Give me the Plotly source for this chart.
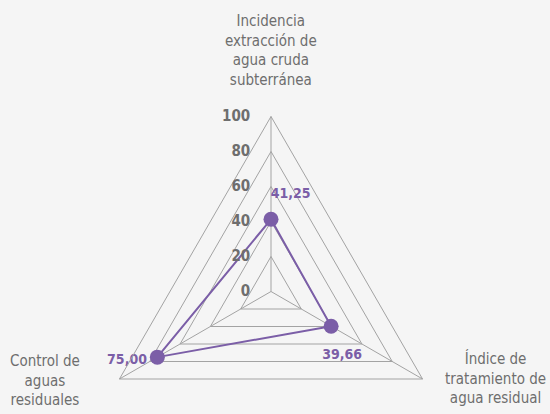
import plotly.graph_objects as go

categories = [
    "Incidencia<br>extracción de<br>agua cruda<br>subterránea",
    "Índice de<br>tratamiento de<br>agua residual",
    "Control de<br>aguas<br>residuales",
]
values = [41.25, 39.66, 75.00]
radial_ticks = [0, 20, 40, 60, 80, 100]

PURPLE = "#7b5ea7"
GRID = "#a3a3a3"
TEXT = "#6e6e6e"
BG = "#f5f5f5"
FONT = "DejaVu Sans Condensed, Roboto, sans-serif"


def fmt(v):
    return f"{v:.2f}".replace(".", ",")


NB = "\u00a0"
SPAN = "<span style='font-size:14px'>%s</span>"
labels = [
    SPAN % (NB * 9 + fmt(values[0])) + "<br> ",
    " <br>" + SPAN % (NB * 5 + fmt(values[1])),
    " <br>" + SPAN % fmt(values[2]),
]
positions = ["top center", "bottom center", "middle left"]

theta_closed = categories + [categories[0]]
r_closed = values + [values[0]]

fig = go.Figure()
fig.add_trace(go.Scatterpolar(
    r=r_closed, theta=theta_closed, mode="lines",
    line=dict(color=PURPLE, width=2), hoverinfo="skip", showlegend=False,
))
fig.add_trace(go.Scatterpolar(
    r=values, theta=categories, mode="markers+text",
    marker=dict(color=PURPLE, size=15),
    text=labels, textposition=positions,
    textfont=dict(color=PURPLE, size=[7, 11, 8], family=FONT, weight="bold"),
    showlegend=False,
))

W, H = 550, 470
fig.update_layout(
    width=W, height=H, autosize=False,
    margin=dict(l=0, r=0, t=0, b=0),
    paper_bgcolor=BG, plot_bgcolor=BG,
    font=dict(family=FONT, color=TEXT),
    polar=dict(
        bgcolor=BG,
        gridshape="linear",
        domain=dict(x=[96 / W, 446 / W], y=[1 - 466.5 / H, 1 - 116.5 / H]),
        radialaxis=dict(
            range=[0, 100], tickvals=radial_ticks, angle=90, side="counterclockwise",
            tickangle=90, showline=False, gridcolor=GRID, gridwidth=1,
            ticks="outside", ticklen=15, tickcolor="rgba(0,0,0,0)",
            tickfont=dict(size=15, color=TEXT, family=FONT, weight="bold"),
        ),
        angularaxis=dict(
            rotation=90, direction="clockwise", showticklabels=False, ticks="",
            gridcolor=GRID, gridwidth=1, showline=True, linecolor=GRID, linewidth=1,
        ),
    ),
)

label_pos = [(271, 51), (495, 378), (45, 380)]
for cat, (px, py) in zip(categories, label_pos):
    fig.add_annotation(
        text=cat, x=px / W, y=1 - py / H, xref="paper", yref="paper",
        xanchor="center", yanchor="middle", showarrow=False, align="center",
        font=dict(size=15, color=TEXT, family=FONT),
    )

fig.write_html(
    "out.html",
    config={"displayModeBar": False},
    post_script="document.body.style.margin='0';document.body.style.overflow='hidden';"
                "document.documentElement.style.overflow='hidden';",
)
